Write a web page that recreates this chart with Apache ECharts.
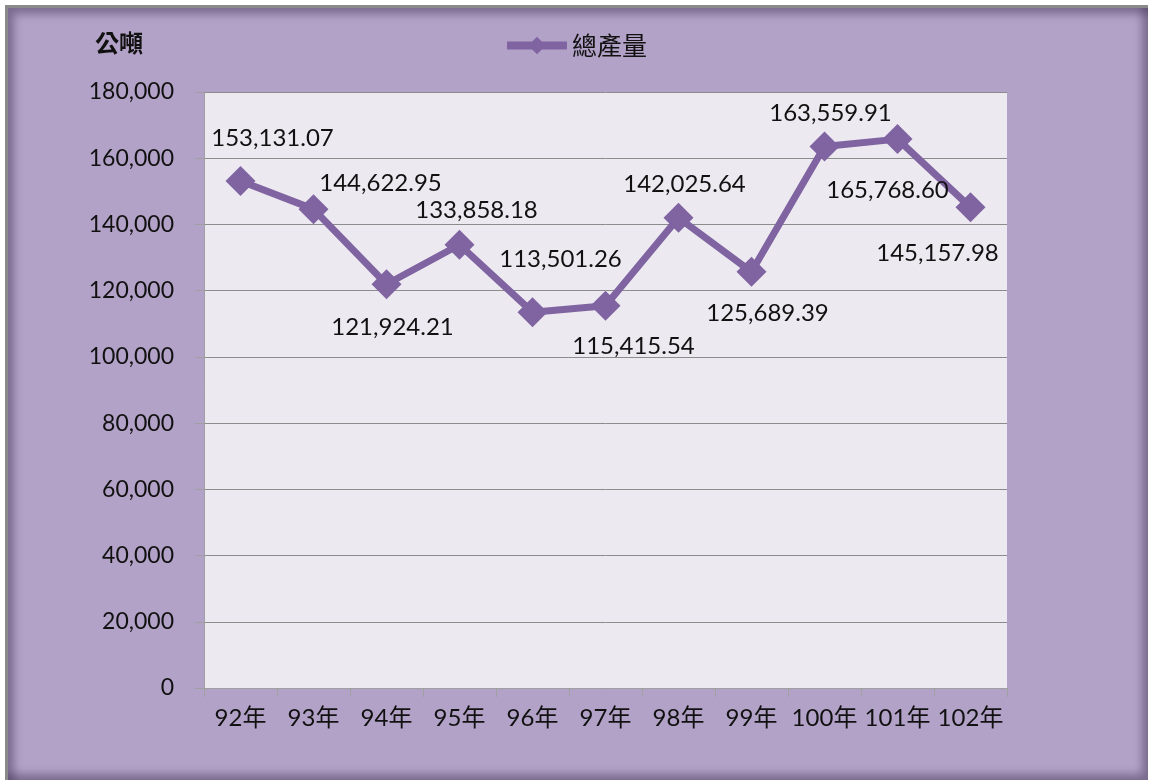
<!DOCTYPE html>
<html>
<head>
<meta charset="utf-8">
<script src="https://cdn.jsdelivr.net/npm/echarts@6/dist/echarts.min.js"></script>
<style>
  html, body { margin: 0; padding: 0; background: #fff; }
  #frame {
    position: absolute; left: 5px; top: 5px; width: 1143px; height: 775px;
    background: #b3a2c7;
    border-left: 3px solid #8a8a8a; border-top: 3px solid #8a8a8a;
    box-sizing: border-box;
    box-shadow: inset 6px 6px 8px rgba(60, 45, 80, 0.45), inset -6px -6px 8px rgba(60, 45, 80, 0.45);
  }
  #main { position: absolute; left: 0; top: 0; width: 1150px; height: 783px; }
</style>
</head>
<body>
<div id="frame"></div>
<div id="main"></div>
<script>
// 年份
var years = ["92年", "93年", "94年", "95年", "96年", "97年", "98年", "99年", "100年", "101年", "102年"];
// 總產量 (公噸)
var totalOutput = [153131.07, 144622.95, 121924.21, 133858.18, 113501.26, 115415.54, 142025.64, 125689.39, 163559.91, 165768.60, 145157.98];
// 數據標籤偏移 (layout only)
var labelOffset = [[32, -43], [67, -26], [6, 43], [17, -35], [28, -53], [28, 40], [6, -33], [16, 41], [6, -33], [-10, 51], [-33, 46]];

var fontFam = "Lato, 'Noto Sans CJK TC', sans-serif";

function fmt(v) {
  var s = v.toFixed(2).split(".");
  return s[0].replace(/\B(?=(\d{3})+(?!\d))/g, ",") + "." + s[1];
}

var seriesData = [];
for (var i = 0; i < totalOutput.length; i++) {
  seriesData.push({
    value: totalOutput[i],
    label: { offset: labelOffset[i] }
  });
}

var myChart = echarts.init(document.getElementById("main"));
var option = {
  backgroundColor: "transparent",
  textStyle: { fontFamily: fontFam },
  grid: { left: 204, top: 92, right: 143, bottom: 95, show: true, backgroundColor: "#ece9f0", borderWidth: 0 },
  legend: {
    top: 28,
    left: "center",
    itemWidth: 60,
    itemHeight: 22,
    itemGap: 0,
    lineStyle: { width: 8 },
    textStyle: { fontSize: 25, color: "#111", fontFamily: "'Noto Sans CJK TC', sans-serif" },
    data: ["總產量"]
  },
  graphic: [{
    type: "text",
    left: 95,
    top: 31,
    style: { text: "公噸", fontSize: 24, fontWeight: "bold", fill: "#111", fontFamily: "'Noto Sans CJK TC', sans-serif" }
  }],
  xAxis: {
    type: "category",
    data: years,
    boundaryGap: true,
    axisLine: { lineStyle: { color: "#a0a0a0", width: 1 } },
    axisTick: { show: true, interval: 0, length: 9, lineStyle: { color: "#a0a0a0" } },
    axisLabel: { color: "#111", fontSize: 24, margin: 18, interval: 0, fontFamily: fontFam }
  },
  yAxis: {
    type: "value",
    min: 0,
    max: 180000,
    interval: 20000,
    axisLine: { show: true, lineStyle: { color: "#a0a0a0", width: 1 } },
    axisTick: { show: true, length: 9, lineStyle: { color: "#a0a0a0" } },
    axisLabel: {
      color: "#111", fontSize: 23, margin: 30, fontFamily: fontFam,
      formatter: function (v) { return v.toLocaleString("en-US"); }
    },
    splitLine: { lineStyle: { color: "#8c8c8c", width: 1 } }
  },
  series: [{
    name: "總產量",
    type: "line",
    data: seriesData,
    symbol: "diamond",
    symbolSize: [30, 30],
    lineStyle: { color: "#8064a2", width: 7 },
    itemStyle: { color: "#8064a2" },
    label: {
      show: true,
      position: "inside",
      color: "#111",
      fontSize: 24,
      fontFamily: fontFam,
      formatter: function (p) { return fmt(p.value); }
    },
    emphasis: { disabled: true }
  }]
};
myChart.setOption(option);
</script>
</body>
</html>
